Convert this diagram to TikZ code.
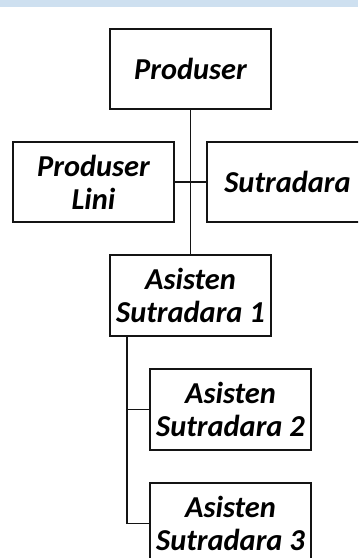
\documentclass[tikz,border=0pt]{standalone}
\usepackage{fontspec}
\setmainfont{Carlito}
\usetikzlibrary{calc}
\definecolor{bandblue}{RGB}{206,224,240}
\definecolor{boxline}{RGB}{20,20,20}
\tikzset{
  role/.style={draw=boxline, line width=1.5pt, fill=white,
    minimum width=120.75pt, minimum height=60.5pt, inner sep=0pt,
    align=center, font=\fontsize{22.8}{24.75}\selectfont\bfseries\itshape},
  link/.style={draw=boxline, line width=1.3pt}
}
\begin{document}
\begin{tikzpicture}[x=0.75pt, y=-0.75pt]
  \useasboundingbox (0,0) rectangle (358,558);
  \clip (0,0) rectangle (358,558);
  % header band
  \fill[bandblue] (0,0) rectangle (358,7);
  % connectors first, boxes on top
  \coordinate (prodS) at (190.5,109);
  \coordinate (as1N) at (190.5,255);
  \coordinate (branch) at (127,336);
  \draw[link] (prodS) -- (as1N);
  \draw[link] (174,182) -- (207,182);
  \draw[link] (branch) |- (150,409.5);
  \draw[link] (branch) |- (150,523.5);
  % role boxes
  \node[role] (prod) at (190.5,69) {Produser};
  \node[role] (lini) at (93.5,182) {Produser\\Lini};
  \node[role] (sutr) at (287.5,182) {Sutradara};
  \node[role] (as1) at (190.5,295.5) {Asisten\\Sutradara 1};
  \node[role] (as2) at (230.5,409.5) {Asisten\\Sutradara 2};
  \node[role] (as3) at (230.5,523.5) {Asisten\\Sutradara 3};
\end{tikzpicture}
\end{document}
